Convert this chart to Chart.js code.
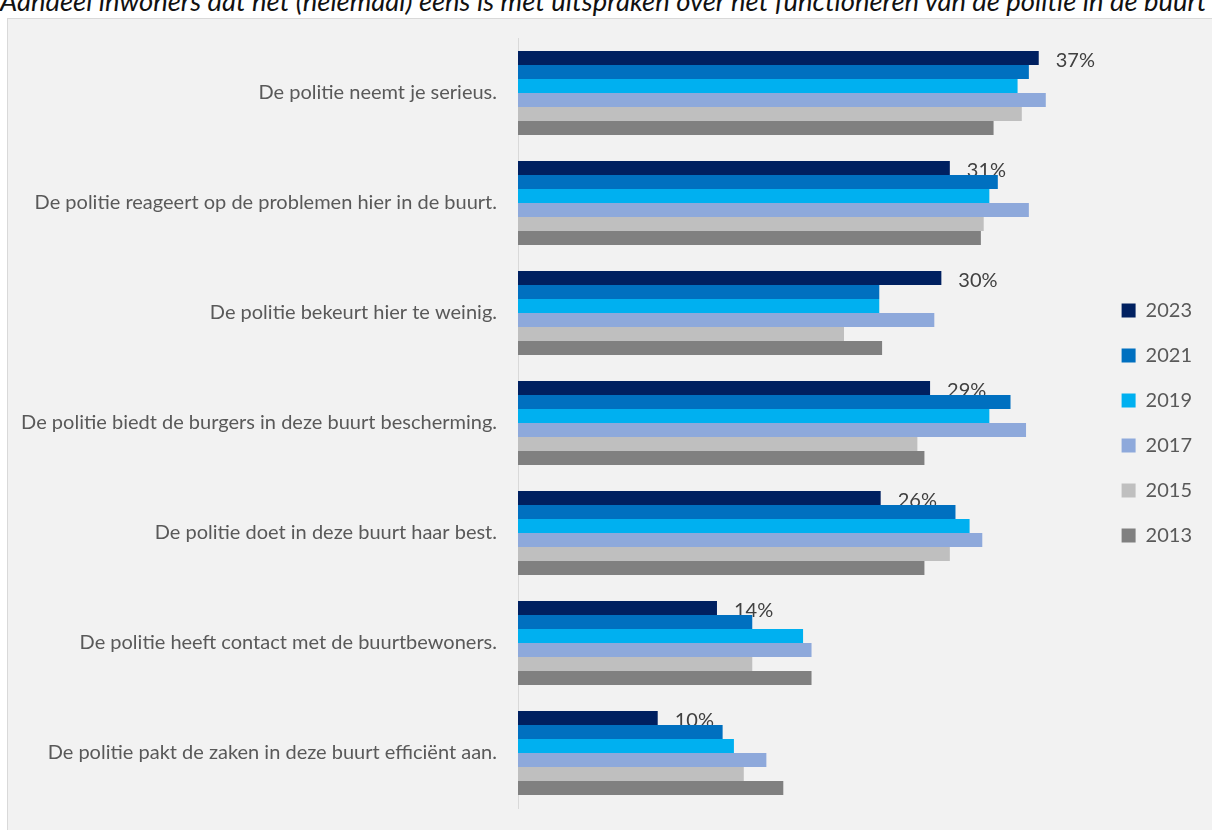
<!DOCTYPE html>
<html>
<head>
<meta charset="utf-8">
<script src="https://cdn.jsdelivr.net/npm/chart.js@4"></script>
<style>
  html, body { margin: 0; padding: 0; background: #fff; overflow: hidden; }
  #title {
    position: absolute; left: 0px; top: -13px;
    font: italic 27.4px Lato, sans-serif; line-height: 27px;
    color: #111; white-space: nowrap;
  }
  #box {
    position: absolute; left: 7px; top: 18px; width: 1220px; height: 830px;
    background: #F2F2F2; border: 1px solid #D9D9D9;
  }
  #chart { position: absolute; left: 0; top: 0; }
</style>
</head>
<body>
<div id="title">Aandeel inwoners dat het (helemaal) eens is met uitspraken over het functioneren van de politie in de buurt</div>
<div id="box"></div>
<canvas id="chart" width="1212" height="830"></canvas>
<script>
const categories = [
    "De politie neemt je serieus.",
    "De politie reageert op de problemen hier in de buurt.",
    "De politie bekeurt hier te weinig.",
    "De politie biedt de burgers in deze buurt bescherming.",
    "De politie doet in deze buurt haar best.",
    "De politie heeft contact met de buurtbewoners.",
    "De politie pakt de zaken in deze buurt efficiënt aan."
];

const years = ["2023", "2021", "2019", "2017", "2015", "2013"];
const colors = ["#002060", "#0070C0", "#00B0F0", "#8EA9DB", "#BFBFBF", "#808080"];

// percentages per year
const v2023 = [36.9, 30.6, 30.0, 29.2, 25.7, 14.1, 9.9];
const v2021 = [36.2, 34.0, 25.6, 34.9, 31.0, 16.6, 14.5];
const v2019 = [35.4, 33.4, 25.6, 33.4, 32.0, 20.2, 15.3];
const v2017 = [37.4, 36.2, 29.5, 36.0, 32.9, 20.8, 17.6];
const v2015 = [35.7, 33.0, 23.1, 28.3, 30.6, 16.6, 16.0];
const v2013 = [33.7, 32.8, 25.8, 28.8, 28.8, 20.8, 18.8];

const series = [v2023, v2021, v2019, v2017, v2015, v2013];

const FONT = "Lato, sans-serif";

// labels only on the 2023 bars, drawn before the bars so later bars can cover them
const valueLabels = {
    id: "valueLabels",
    beforeDatasetsDraw(chart) {
        const ctx = chart.ctx;
        const meta = chart.getDatasetMeta(0);
        ctx.save();
        ctx.font = "20px " + FONT;
        ctx.fillStyle = "#404040";
        ctx.textAlign = "left";
        ctx.textBaseline = "alphabetic";
        meta.data.forEach((bar, i) => {
            ctx.fillText(Math.round(v2023[i]) + "%", bar.x + 17, bar.y + 9);
        });
        ctx.restore();
    }
};

new Chart(document.getElementById("chart"), {
    type: "bar",
    data: {
        labels: categories,
        datasets: series.map((data, i) => ({
            label: years[i],
            data: data,
            backgroundColor: colors[i],
            borderWidth: 0,
            barPercentage: 1,
            categoryPercentage: 0.7636
        }))
    },
    options: {
        indexAxis: "y",
        responsive: false,
        animation: false,
        layout: { padding: { top: 38, bottom: 22, left: 0, right: 10 } },
        scales: {
            x: { display: false, min: 0, max: 41 },
            y: {
                grid: { display: false },
                border: { display: true, color: "#D9D9D9", width: 1 },
                ticks: { color: "#595959", font: { family: FONT, size: 20 }, padding: 13 },
                afterFit: (scale) => {
                    scale.width = 518;
                    scale.paddingTop = 0;
                    scale.paddingBottom = 0;
                }
            }
        },
        plugins: {
            legend: {
                position: "right",
                align: "center",
                labels: {
                    boxWidth: 14,
                    boxHeight: 14,
                    padding: 25,
                    color: "#595959",
                    font: { family: FONT, size: 20 }
                }
            },
            tooltip: { enabled: false }
        }
    },
    plugins: [valueLabels]
});
</script>
</body>
</html>
